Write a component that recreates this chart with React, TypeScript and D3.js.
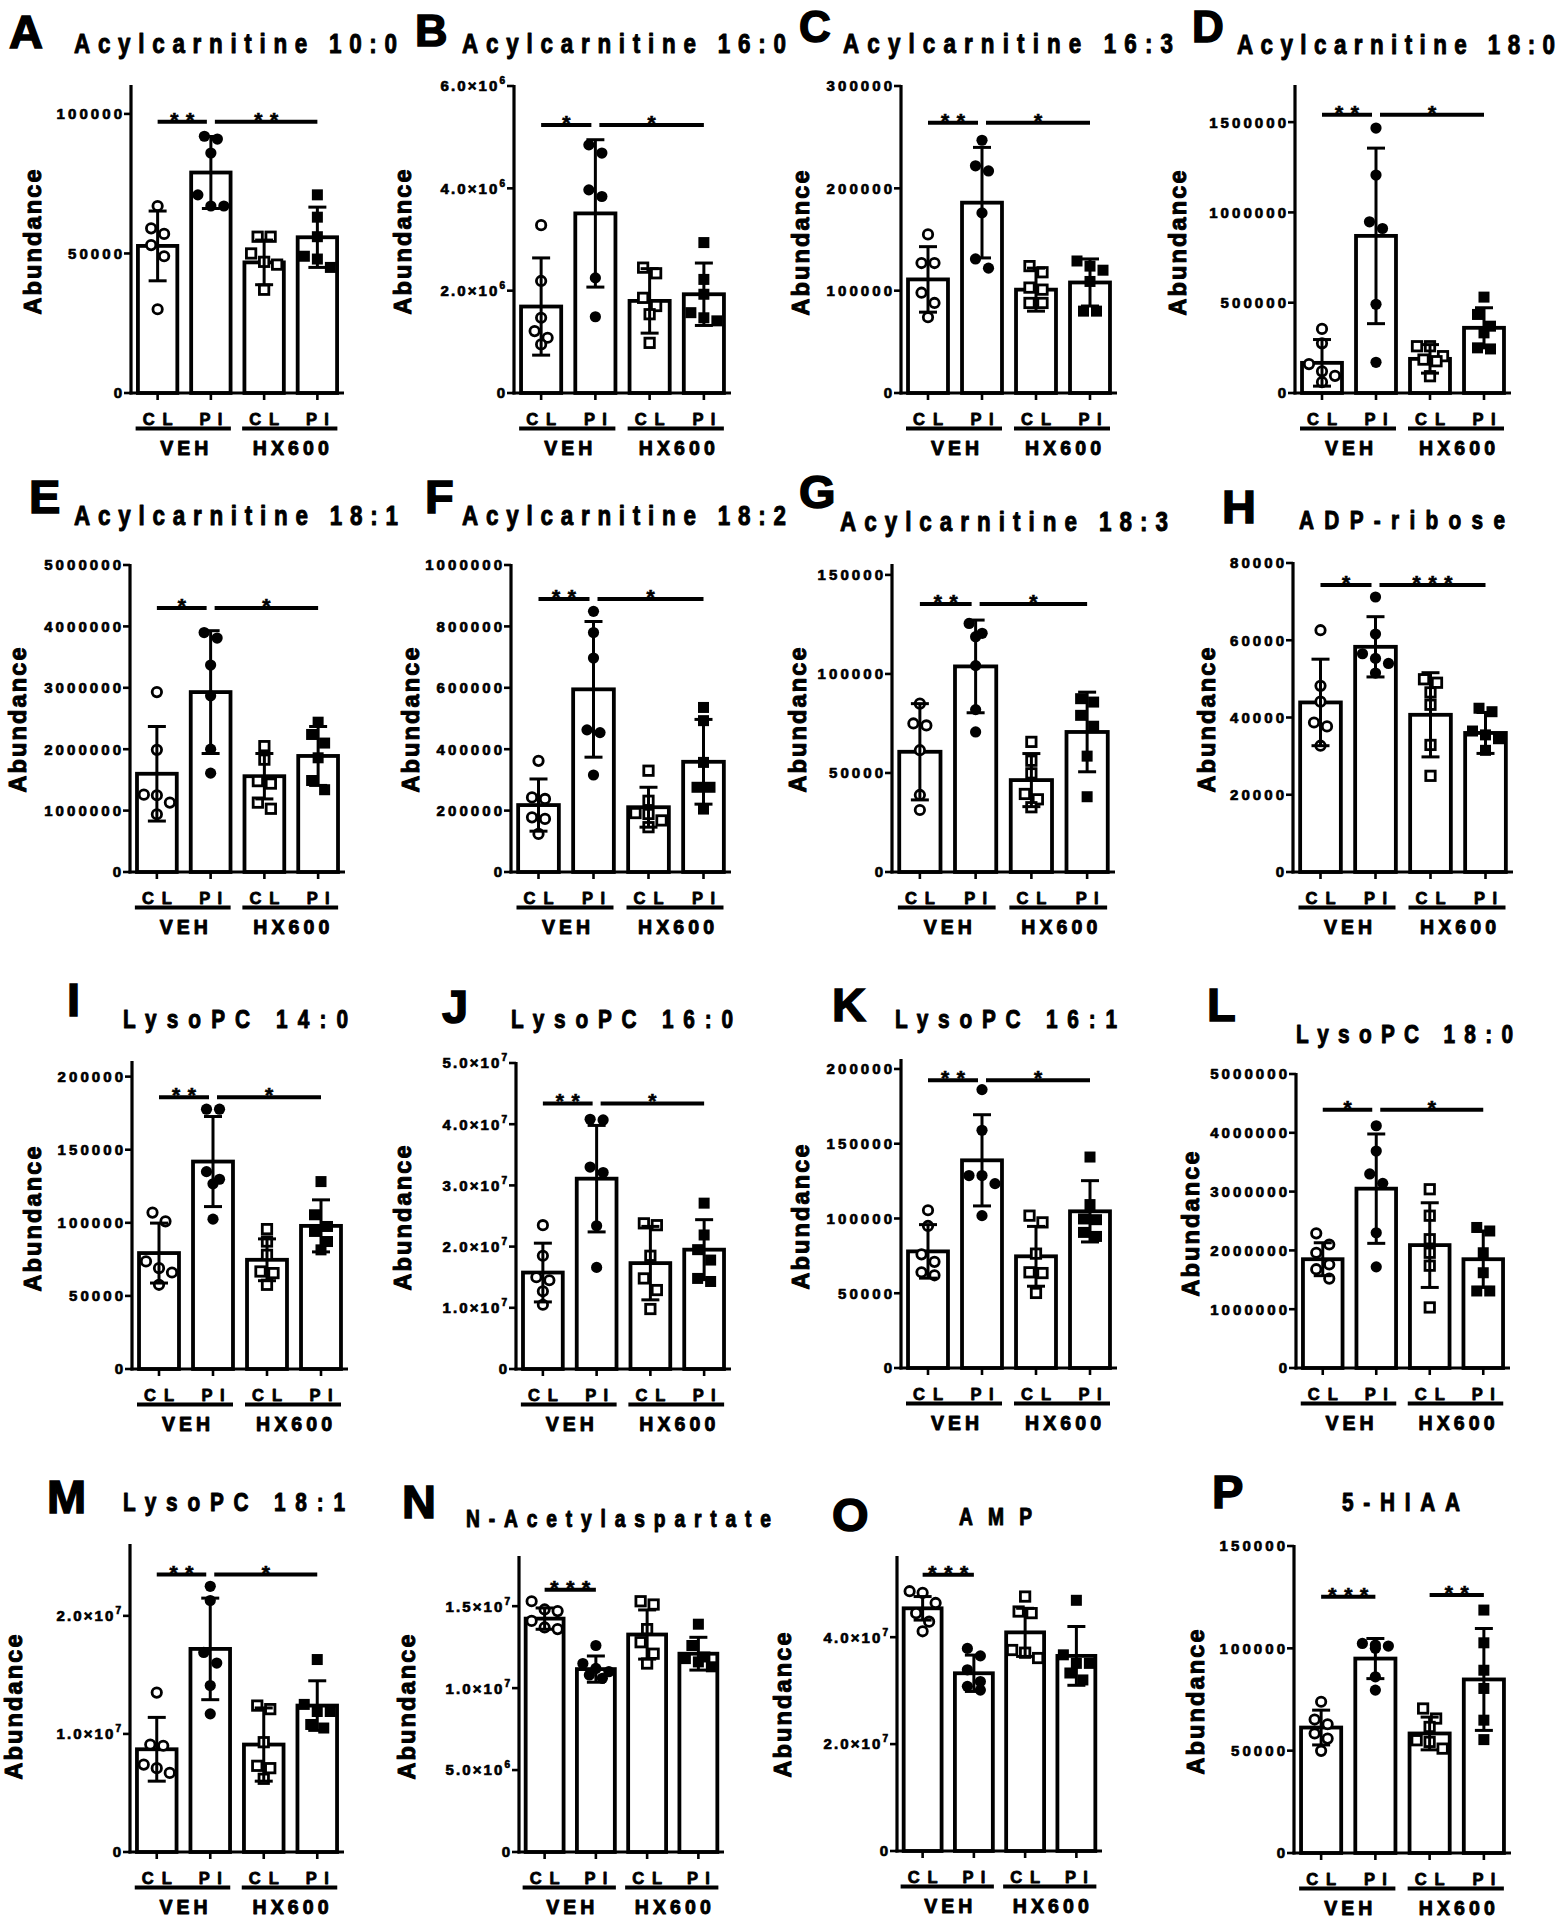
import React from "react";
import * as d3 from "d3";

const FONT = "'Liberation Sans', Arial, Helvetica, sans-serif";

// ---------- data ----------
const categories = ["CL", "PI", "CL", "PI"];
const treatments = ["VEH", "HX600"];

const panelLetters = ["A", "B", "C", "D", "E", "F", "G", "H", "I", "J", "K", "L", "M", "N", "O", "P"];
const panelTitles = [
  "Acylcarnitine 10:0", "Acylcarnitine 16:0", "Acylcarnitine 16:3", "Acylcarnitine 18:0",
  "Acylcarnitine 18:1", "Acylcarnitine 18:2", "Acylcarnitine 18:3", "ADP-ribose",
  "LysoPC 14:0", "LysoPC 16:0", "LysoPC 16:1", "LysoPC 18:0",
  "LysoPC 18:1", "N-Acetylaspartate", "AMP", "5-HIAA",
];
const yMaxValues = [
  110000, 6e6, 300000, 1.7e6,
  5e6, 1e6, 155000, 80000,
  210000, 5e7, 206000, 5e6,
  2.6e7, 1.8e7, 5.5e7, 150000,
];
const yTickValues = [
  [0, 50000, 100000], [0, 2e6, 4e6, 6e6], [0, 100000, 200000, 300000], [0, 500000, 1000000, 1500000],
  [0, 1e6, 2e6, 3e6, 4e6, 5e6], [0, 200000, 400000, 600000, 800000, 1000000], [0, 50000, 100000, 150000], [0, 20000, 40000, 60000, 80000],
  [0, 50000, 100000, 150000, 200000], [0, 1e7, 2e7, 3e7, 4e7, 5e7], [0, 50000, 100000, 150000, 200000], [0, 1e6, 2e6, 3e6, 4e6, 5e6],
  [0, 1e7, 2e7], [0, 5e6, 1e7, 1.5e7], [0, 2e7, 4e7], [0, 50000, 100000, 150000],
];
const sciNotation = [
  false, true, false, false,
  false, false, false, false,
  false, true, false, false,
  true, true, true, false,
];
const barMeans = [
  [52700, 79000, 46800, 55800],
  [1.69e6, 3.51e6, 1.80e6, 1.93e6],
  [111000, 186000, 101000, 108000],
  [167000, 870000, 189000, 361000],
  [1.60e6, 2.93e6, 1.56e6, 1.89e6],
  [218000, 595000, 211000, 359000],
  [60700, 103800, 46400, 70700],
  [43900, 58300, 40700, 36000],
  [79300, 141900, 74700, 97900],
  [1.576e7, 3.11e7, 1.73e7, 1.95e7],
  [78000, 138900, 74700, 104800],
  [1.85e6, 3.05e6, 2.09e6, 1.85e6],
  [0.87e7, 1.72e7, 0.91e7, 1.24e7],
  [1.424e7, 1.116e7, 1.327e7, 1.21e7],
  [4.54e7, 3.325e7, 4.09e7, 3.65e7],
  [61300, 95000, 58400, 84800],
];
const barSDs = [
  [12500, 12900, 8000, 10800],
  [0.95e6, 1.44e6, 0.63e6, 0.61e6],
  [32000, 54000, 21000, 23000],
  [129000, 486000, 79000, 111000],
  [0.77e6, 1.00e6, 0.37e6, 0.48e6],
  [85000, 221000, 65000, 138000],
  [24300, 23400, 13400, 20100],
  [11200, 7800, 10900, 5300],
  [20500, 30800, 14300, 17800],
  [0.48e7, 0.87e7, 0.60e7, 0.49e7],
  [17900, 30500, 20000, 20500],
  [0.28e6, 0.93e6, 0.72e6, 0.48e6],
  [0.27e7, 0.43e7, 0.31e7, 0.21e7],
  [0.065e7, 0.08e7, 0.15e7, 0.1e7],
  [0.22e7, 0.34e7, 0.45e7, 0.55e7],
  [8500, 9800, 8000, 24900],
];
const pointValues = [
  [[67000, 59000, 57000, 53000, 49000, 30000], [92000, 91000, 86000, 71000, 67000, 67000], [56000, 56000, 50000, 47000, 46000, 37000], [71000, 63000, 56000, 49000, 48000, 45000]],
  [[3.28e6, 2.19e6, 1.47e6, 1.21e6, 1.08e6, 0.95e6], [4.85e6, 4.69e6, 3.97e6, 3.84e6, 2.25e6, 1.49e6], [2.45e6, 2.34e6, 1.86e6, 1.70e6, 1.54e6, 0.98e6], [2.94e6, 2.22e6, 1.93e6, 1.57e6, 1.47e6, 1.41e6]],
  [[155000, 127000, 127000, 98000, 88000, 74000], [247000, 222000, 217000, 176000, 131000, 122000], [124000, 118000, 103000, 101000, 88000, 88000], [129000, 124000, 120000, 109000, 80000, 80000]],
  [[355000, 275000, 160000, 120000, 95000, 60000], [1467000, 1207000, 948000, 911000, 491000, 170000], [259000, 259000, 204000, 185000, 176000, 93000], [531000, 435000, 370000, 333000, 250000, 244000]],
  [[2.93e6, 1.99e6, 1.26e6, 1.25e6, 1.13e6, 0.94e6], [3.90e6, 3.81e6, 3.37e6, 2.87e6, 2.00e6, 1.61e6], [2.05e6, 1.83e6, 1.48e6, 1.44e6, 1.13e6, 1.03e6], [2.44e6, 2.24e6, 2.10e6, 1.86e6, 1.49e6, 1.34e6]],
  [[362000, 243000, 238000, 178000, 173000, 124000], [849000, 780000, 697000, 463000, 454000, 316000], [330000, 232000, 192000, 189000, 168000, 146000], [536000, 493000, 357000, 276000, 276000, 205000]],
  [[85000, 75000, 74000, 61500, 38900, 31300], [125500, 120500, 118800, 104200, 82000, 70700], [65700, 56200, 49800, 39400, 36700, 32700], [87500, 85800, 79100, 73600, 58500, 38000]],
  [[62600, 48200, 44100, 38700, 37700, 32700], [71200, 61600, 56500, 55300, 54000, 51500], [49900, 49000, 46500, 43300, 32900, 24900], [42400, 41500, 36500, 35500, 34500, 31500]],
  [[107000, 101000, 73600, 69000, 66000, 57600], [177700, 177700, 135000, 129800, 126700, 102500], [95700, 87200, 78100, 66700, 65600, 57600], [128200, 105500, 97500, 94100, 87200, 81500]],
  [[2.35e7, 1.85e7, 1.50e7, 1.45e7, 1.27e7, 1.05e7], [4.08e7, 4.07e7, 3.30e7, 3.21e7, 2.34e7, 1.66e7], [2.38e7, 2.35e7, 1.85e7, 1.48e7, 1.29e7, 0.98e7], [2.71e7, 2.19e7, 1.95e7, 1.78e7, 1.48e7, 1.43e7]],
  [[105500, 95000, 76000, 71000, 64000, 62000], [186200, 159000, 128700, 128700, 123300, 101900], [101900, 97400, 76500, 64000, 63500, 50200], [141100, 109300, 99700, 99200, 90700, 88000]],
  [[2.29e6, 2.10e6, 1.96e6, 1.76e6, 1.68e6, 1.52e6], [4.12e6, 3.69e6, 3.30e6, 3.14e6, 2.30e6, 1.72e6], [3.04e6, 2.59e6, 2.19e6, 1.96e6, 1.74e6, 1.03e6], [2.39e6, 2.33e6, 1.96e6, 1.62e6, 1.31e6, 1.31e6]],
  [[1.35e7, 0.91e7, 0.90e7, 0.74e7, 0.71e7, 0.67e7], [2.25e7, 2.13e7, 1.69e7, 1.60e7, 1.41e7, 1.17e7], [1.24e7, 1.21e7, 0.93e7, 0.73e7, 0.71e7, 0.62e7], [1.63e7, 1.25e7, 1.19e7, 1.19e7, 1.08e7, 1.05e7]],
  [[1.53e7, 1.48e7, 1.47e7, 1.41e7, 1.37e7, 1.36e7], [1.26e7, 1.15e7, 1.12e7, 1.10e7, 1.08e7, 1.06e7], [1.53e7, 1.51e7, 1.36e7, 1.28e7, 1.21e7, 1.15e7], [1.39e7, 1.26e7, 1.19e7, 1.18e7, 1.16e7, 1.13e7]],
  [[4.86e7, 4.83e7, 4.64e7, 4.45e7, 4.29e7, 4.11e7], [3.79e7, 3.65e7, 3.39e7, 3.17e7, 3.08e7, 3.01e7], [4.76e7, 4.48e7, 4.45e7, 3.76e7, 3.71e7, 3.61e7], [4.69e7, 3.67e7, 3.51e7, 3.51e7, 3.33e7, 3.20e7]],
  [[73900, 65200, 62900, 58400, 55900, 49900], [102400, 101600, 101100, 100000, 86100, 79600], [70600, 65700, 61600, 55100, 54300, 51000], [118700, 102700, 89300, 80400, 64900, 55400]],
];
// significance: [fromGroup, toGroup, value, label]
const significance: [number, number, number, string][][] = [
  [[0, 1, 97200, "**"], [1, 3, 97200, "**"]],
  [[0, 1, 5.24e6, "*"], [1, 3, 5.24e6, "*"]],
  [[0, 1, 264000, "**"], [1, 3, 264000, "*"]],
  [[0, 1, 1541000, "**"], [1, 3, 1541000, "*"]],
  [[0, 1, 4.30e6, "*"], [1, 3, 4.30e6, "*"]],
  [[0, 1, 889000, "**"], [1, 3, 889000, "*"]],
  [[0, 1, 135300, "**"], [1, 3, 135300, "*"]],
  [[0, 1, 74300, "*"], [1, 3, 74300, "***"]],
  [[0, 1, 185900, "**"], [1, 3, 185900, "*"]],
  [[0, 1, 4.34e7, "**"], [1, 3, 4.34e7, "*"]],
  [[0, 1, 192400, "**"], [1, 3, 192400, "*"]],
  [[0, 1, 4.39e6, "*"], [1, 3, 4.39e6, "*"]],
  [[0, 1, 2.35e7, "**"], [1, 3, 2.35e7, "*"]],
  [[0, 1, 1.60e7, "***"]],
  [[0, 1, 5.17e7, "***"]],
  [[0, 1, 125200, "***"], [2, 3, 126000, "**"]],
];

// ---------- layout (pixels) ----------
// ax, ax2, base, top, ylabX, ylabY, titleX, titleLen, titleBase, titleSize, letterX, letterBase, letterSize
const layout = [
  [131, 344, 393, 86, 33, 242, 74, 323, 53, 28, 9, 48, 47],
  [514, 731, 393, 86, 403, 242, 462, 324, 53, 28, 415, 46, 45],
  [901, 1117, 393, 86, 801, 243, 843, 330, 53, 28, 799, 42, 44],
  [1295, 1511, 393, 86, 1178, 243, 1237, 318, 54, 28, 1192, 42, 44],
  [130, 345, 872, 565, 18, 720, 74, 324, 525, 28, 29, 513, 47],
  [511, 731, 872, 565, 411, 720, 462, 324, 525, 28, 425, 513, 47],
  [892, 1115, 872, 565, 798, 720, 840, 328, 531, 28, 799, 508, 47],
  [1293, 1513, 872, 563, 1207, 720, 1299, 206, 529, 26, 1222, 523, 47],
  [132, 348, 1369, 1062, 33, 1219, 123, 225, 1028, 26, 67, 1016, 47],
  [516, 731, 1369, 1063, 403, 1218, 511, 222, 1028, 26, 442, 1023, 47],
  [901, 1117, 1368, 1060, 801, 1217, 895, 222, 1028, 26, 832, 1021, 47],
  [1296, 1510, 1368, 1074, 1191, 1224, 1296, 217, 1043, 26, 1207, 1021, 47],
  [130, 344, 1852, 1545, 14, 1707, 123, 222, 1511, 26, 47, 1513, 47],
  [519, 724, 1852, 1557, 407, 1707, 466, 305, 1527, 24, 402, 1518, 47],
  [897, 1102, 1851, 1557, 783, 1705, 959, 73, 1525, 24, 832, 1531, 47],
  [1294, 1511, 1853, 1546, 1196, 1702, 1342, 118, 1511, 26, 1212, 1508, 47],
];

const R = 6;

// bold text, optionally narrowed (sx) and thickened (sw); `len` is the final on-screen width
function NText({ x, y, size, len, anchor = "start", rotate = 0, baseline, sx = 1, sw = 0.8, children }: any) {
  return (
    <g transform={`translate(${x},${y}) rotate(${rotate}) scale(${sx},1)`}>
      <text
        x={0}
        y={0}
        fontSize={size}
        fontWeight="bold"
        textAnchor={anchor}
        dominantBaseline={baseline}
        textLength={len ? len / sx : undefined}
        lengthAdjust="spacing"
        stroke="#000"
        strokeWidth={sw}
        strokeLinejoin="round"
      >
        {children}
      </text>
    </g>
  );
}

function swarm(vals: number[], y: (v: number) => number) {
  const idx = vals.map((_, i) => i).sort((a, b) => vals[b] - vals[a]);
  const offs = new Array(vals.length).fill(0);
  let cluster: number[] = [];
  const flush = () => {
    cluster.forEach((k, j) => (offs[k] = (j - (cluster.length - 1) / 2) * (2 * R + 1)));
    cluster = [];
  };
  idx.forEach((k) => {
    if (cluster.length && (Math.abs(y(vals[k]) - y(vals[cluster[0]])) > 2 * R || cluster.length >= 3)) flush();
    cluster.push(k);
  });
  flush();
  return offs;
}

function TickLabel({ v, sci, x, y }: { v: number; sci: boolean; x: number; y: number }) {
  if (v === 0 || !sci) {
    const s = String(v);
    return (
      <NText x={x} y={y + 5.4} size={15} anchor="end" len={s.length * 11.4 - 3} sw={0.7}>
        {s}
      </NText>
    );
  }
  const exp = Math.floor(Math.log10(v) + 1e-9);
  const mant = (v / Math.pow(10, exp)).toFixed(1);
  const ls = 2.1;
  return (
    <text x={x + ls} y={y + 5.4} textAnchor="end" fontSize={15} fontWeight="bold" letterSpacing={ls} stroke="#000" strokeWidth={0.7}>
      {mant + "\u00d710"}
      <tspan fontSize={10} dy={-7}>{String(exp)}</tspan>
    </text>
  );
}

function Panel({ i }: { i: number }) {
  const [ax, ax2, base, top, ylabX, ylabY, titleX, titleLen, titleBase, titleSize, letterX, letterBase, letterSize] = layout[i];
  const y = d3.scaleLinear().domain([0, yMaxValues[i]]).range([base, top]);
  const xs = d3.scalePoint<number>().domain([0, 1, 2, 3]).range([ax, ax2]).padding(0.5);
  const step = xs.step();
  const bw = step * 0.74;
  const sigs = significance[i];
  const ends = sigs.map((s) => s[1]);
  const starts = sigs.map((s) => s[0]);

  return (
    <g>
      <text x={letterX} y={letterBase} fontSize={letterSize} fontWeight="bold" stroke="#000" strokeWidth={1.5}>
        {panelLetters[i]}
      </text>
      <NText x={titleX} y={titleBase} size={titleSize} len={titleLen} sx={0.8} sw={1}>
        {panelTitles[i]}
      </NText>
      <NText x={ylabX} y={ylabY} size={23.5} len={145} anchor="middle" rotate={-90} baseline="central" sw={1}>
        Abundance
      </NText>

      {/* bars */}
      {barMeans[i].map((m, g) => (
        <rect key={"b" + g} x={xs(g)! - bw / 2} y={y(m)} width={bw} height={base - y(m)} fill="#fff" stroke="#000" strokeWidth={3.8} />
      ))}

      {/* points */}
      {pointValues[i].map((vals, g) => {
        const offs = swarm(vals, y);
        const cx0 = xs(g)!;
        return vals.map((v, k) => {
          const cx = cx0 + offs[k];
          const cy = y(v);
          if (g < 2) {
            return g === 0 ? (
              <circle key={`p${g}-${k}`} cx={cx} cy={cy} r={R - 1.3} fill="#fff" stroke="#000" strokeWidth={2.8} />
            ) : (
              <circle key={`p${g}-${k}`} cx={cx} cy={cy} r={R - 0.4} fill="#000" />
            );
          }
          return g === 2 ? (
            <rect key={`p${g}-${k}`} x={cx - R + 1.3} y={cy - R + 1.3} width={2 * R - 2.6} height={2 * R - 2.6} fill="#fff" stroke="#000" strokeWidth={2.8} />
          ) : (
            <rect key={`p${g}-${k}`} x={cx - R + 0.5} y={cy - R + 0.5} width={2 * R - 1} height={2 * R - 1} fill="#000" />
          );
        });
      })}

      {/* error bars */}
      {barMeans[i].map((m, g) => {
        const sd = barSDs[i][g];
        const cx = xs(g)!;
        const y1 = y(m + sd);
        const y2 = y(Math.max(0, m - sd));
        return (
          <g key={"e" + g} stroke="#000" strokeWidth={3}>
            <line x1={cx} x2={cx} y1={y1} y2={y2} />
            <line x1={cx - 9} x2={cx + 9} y1={y1} y2={y1} />
            <line x1={cx - 9} x2={cx + 9} y1={y2} y2={y2} />
          </g>
        );
      })}

      {/* axes */}
      <line x1={ax} x2={ax} y1={top - 1} y2={base + 1.5} stroke="#000" strokeWidth={3.2} />
      <line x1={ax - 1.5} x2={ax2} y1={base} y2={base} stroke="#000" strokeWidth={3.2} />
      {yTickValues[i].map((t) => (
        <g key={"t" + t}>
          <line x1={ax - 7} x2={ax} y1={y(t)} y2={y(t)} stroke="#000" strokeWidth={2.6} />
          <TickLabel v={t} sci={sciNotation[i]} x={ax - 9} y={y(t)} />
        </g>
      ))}
      {categories.map((c, g) => (
        <g key={"c" + g}>
          <line x1={xs(g)!} x2={xs(g)!} y1={base} y2={base + 7} stroke="#000" strokeWidth={2.6} />
          <NText x={xs(g)!} y={base + 32} size={16.5} anchor="middle" len={c === "CL" ? 30 : 23} sw={0.8}>
            {c}
          </NText>
        </g>
      ))}
      {treatments.map((t, k) => {
        const c0 = xs(2 * k)!;
        const c1 = xs(2 * k + 1)!;
        return (
          <g key={"tr" + k}>
            <line x1={c0 - 22} x2={c1 + 20} y1={base + 35.5} y2={base + 35.5} stroke="#000" strokeWidth={4} />
            <NText x={(c0 + c1) / 2} y={base + 62} size={19.5} anchor="middle" len={t === "VEH" ? 48 : 76} sw={0.9}>
              {t}
            </NText>
          </g>
        );
      })}

      {/* significance */}
      {sigs.map(([a, b, v, lab], k) => {
        const x1 = xs(a)! + (ends.includes(a) ? 4 : 0);
        const x2 = xs(b)! - (starts.includes(b) ? 4 : 0);
        const ly = y(v);
        return (
          <g key={"s" + k}>
            <line x1={x1} x2={x2} y1={ly} y2={ly} stroke="#000" strokeWidth={4} />
            <text x={(x1 + x2) / 2} y={ly + 5} textAnchor="middle" fontSize={21} fontWeight="bold" textLength={lab.length * 16 - 8} lengthAdjust="spacing" stroke="#000" strokeWidth={0.6}>
              {lab}
            </text>
          </g>
        );
      })}
    </g>
  );
}

export default function App() {
  return (
    <svg
      width={1557}
      height={1920}
      viewBox="0 0 1557 1920"
      style={{ position: "absolute", left: 0, top: 0, background: "#fff", fontFamily: FONT }}
      fill="#000"
    >
      <rect x={0} y={0} width={1557} height={1920} fill="#fff" />
      {panelLetters.map((_, i) => (
        <Panel key={i} i={i} />
      ))}
    </svg>
  );
}
